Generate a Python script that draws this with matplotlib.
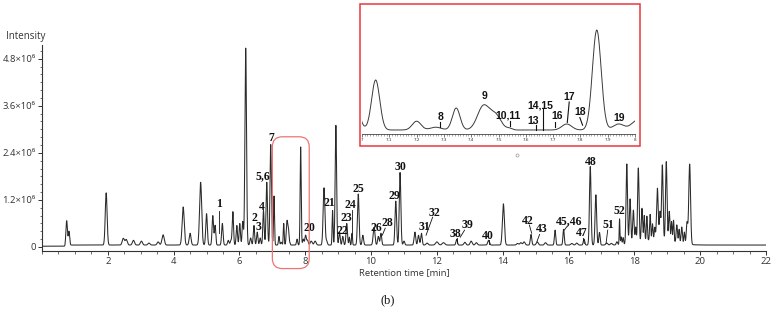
import numpy as np
import matplotlib
matplotlib.use("Agg")
import matplotlib.pyplot as plt
from matplotlib.ticker import MultipleLocator, FuncFormatter
from matplotlib.patches import FancyBboxPatch, Rectangle
from matplotlib.transforms import IdentityTransform

# peak table: retention time [min], height [x1e6], width (sigma, min)
peak_rt = [
    0.75, 0.82, 1.95, 2.47, 2.56, 2.78, 3.02, 3.25, 3.53, 3.68,
    4.29, 4.50, 4.82, 5.00, 5.19, 5.26, 5.48, 5.66, 5.74, 5.80,
    5.92, 6.01, 6.10, 6.19, 6.34, 6.44, 6.54, 6.63, 6.73, 6.83,
    6.95, 7.05, 7.20, 7.27, 7.345, 7.445, 7.49, 7.54, 7.75, 7.86,
    7.94, 8.01, 8.07, 8.18, 8.30, 8.57, 8.65, 8.83, 8.93, 9.04,
    9.14, 9.26, 9.34, 9.42, 9.61, 9.75, 10.09, 10.22, 10.30, 10.75,
    10.88, 11.00, 11.33, 11.44, 11.53, 11.70, 12.00, 12.20, 12.60, 12.85,
    13.04, 13.20, 13.57, 14.02, 14.45, 14.55, 14.65, 14.86, 15.05, 15.30,
    15.59, 15.85, 16.10, 16.25, 16.47, 16.66, 16.83, 16.94, 17.16, 17.30,
    17.47, 17.55, 17.60, 17.66, 17.77, 17.87, 17.97, 18.04, 18.12, 18.23,
    18.30, 18.38, 18.48, 18.55, 18.62, 18.70, 18.78, 18.85, 18.97, 19.06,
    19.13, 19.19, 19.29, 19.36, 19.44, 19.52, 19.60, 19.68, 18.70,
]
peak_height = [
    0.62, 0.35, 1.33, 0.17, 0.14, 0.12, 0.10, 0.05, 0.08, 0.26,
    0.97, 0.30, 1.60, 0.80, 0.75, 0.50, 0.55, 0.12, 0.12, 0.85,
    0.50, 0.55, 0.60, 5.02, 0.18, 0.50, 0.33, 0.18, 0.88, 1.60,
    2.56, 1.25, 0.22, 0.07, 0.55, 0.60, 0.35, 0.04, 0.15, 2.50,
    0.15, 0.25, 0.12, 0.10, 0.10, 1.46, 0.10, 0.88, 3.05, 0.33,
    0.22, 0.55, 0.20, 0.30, 1.30, 0.25, 0.45, 0.22, 0.30, 1.12,
    1.85, 0.10, 0.33, 0.25, 0.30, 0.05, 0.08, 0.06, 0.15, 0.07,
    0.10, 0.06, 0.12, 1.05, 0.04, 0.06, 0.08, 0.27, 0.08, 0.06,
    0.38, 0.40, 0.04, 0.05, 0.15, 2.00, 1.28, 0.32, 0.05, 0.04,
    0.08, 0.66, 0.20, 0.18, 2.05, 1.15, 0.85, 0.40, 1.90, 0.85,
    0.65, 0.62, 0.65, 0.40, 0.30, 1.30, 0.70, 1.90, 2.00, 0.75,
    0.50, 0.55, 0.45, 0.35, 0.42, 0.30, 0.55, 2.05, 0.15,
]
peak_sigma = [
    0.022, 0.020, 0.028, 0.032, 0.032, 0.032, 0.032, 0.032, 0.032, 0.034,
    0.032, 0.028, 0.032, 0.024, 0.022, 0.020, 0.022, 0.022, 0.022, 0.020,
    0.020, 0.020, 0.020, 0.024, 0.022, 0.020, 0.020, 0.020, 0.020, 0.022,
    0.022, 0.015, 0.016, 0.020, 0.014, 0.022, 0.020, 0.010, 0.018, 0.016,
    0.020, 0.022, 0.022, 0.030, 0.030, 0.027, 0.022, 0.014, 0.022, 0.020,
    0.020, 0.022, 0.014, 0.014, 0.024, 0.022, 0.027, 0.022, 0.022, 0.024,
    0.024, 0.022, 0.024, 0.022, 0.022, 0.030, 0.040, 0.040, 0.022, 0.030,
    0.030, 0.030, 0.027, 0.030, 0.030, 0.030, 0.030, 0.022, 0.030, 0.030,
    0.020, 0.020, 0.030, 0.030, 0.022, 0.024, 0.024, 0.020, 0.030, 0.030,
    0.022, 0.011, 0.016, 0.016, 0.022, 0.022, 0.022, 0.016, 0.022, 0.020,
    0.016, 0.016, 0.016, 0.016, 0.016, 0.024, 0.020, 0.022, 0.022, 0.020,
    0.016, 0.016, 0.020, 0.016, 0.020, 0.016, 0.022, 0.027, 0.450,
]
baseline_pre = 0.02   # before injection (x1e6)
baseline_run = 0.05

# compound numbers: (label, x, y) and optional leader line end
main_labels = [
    ("1", 5.38, 1.09, (5.38, 0.93), (5.38, 0.35)),
    ("2", 6.45, 0.74, None, None),
    ("3", 6.57, 0.50, None, None),
    ("4", 6.67, 1.03, None, None),
    ("5,6", 6.72, 1.81, None, None),
    ("7", 6.96, 2.78, None, None),
    ("20", 8.12, 0.48, None, None),
    ("21", 8.73, 1.11, None, None),
    ("22", 9.14, 0.42, None, None),
    ("23", 9.24, 0.73, None, None),
    ("24", 9.38, 1.07, (9.42, 0.94), (9.42, 0.36)),
    ("25", 9.61, 1.48, None, None),
    ("26", 10.15, 0.48, None, None),
    ("28", 10.48, 0.62, (10.43, 0.48), (10.34, 0.30)),
    ("29", 10.71, 1.30, None, None),
    ("30", 10.88, 2.05, None, None),
    ("31", 11.61, 0.50, None, None),
    ("32", 11.94, 0.86, (11.87, 0.76), (11.67, 0.30)),
    ("38", 12.57, 0.33, (12.60, 0.22), (12.60, 0.10)),
    ("39", 12.92, 0.55, (12.84, 0.43), (12.71, 0.25)),
    ("40", 13.55, 0.28, (13.57, 0.17), (13.57, 0.08)),
    ("42", 14.76, 0.67, (14.81, 0.56), (14.88, 0.35)),
    ("43", 15.19, 0.46, (15.12, 0.32), (15.04, 0.14)),
    ("45,46", 16.02, 0.67, (15.97, 0.54), (15.87, 0.43)),
    ("47", 16.40, 0.35, (16.45, 0.22), (16.48, 0.09)),
    ("51", 17.21, 0.56, (17.19, 0.43), (17.14, 0.09)),
    ("52", 17.55, 0.91, None, None),
    ("48", 16.66, 2.17, None, None),
]
inset_labels = [
    ("8", 7.286, 0.38, (7.286, 0.25), (7.286, 0.12)),
    ("9", 7.447, 0.90, None, None),
    ("10,11", 7.536, 0.40, (7.542, 0.28), (7.542, 0.15)),
    ("13", 7.627, 0.28, (7.639, 0.17), (7.639, 0.05)),
    ("14,15", 7.652, 0.67, (7.662, 0.57), (7.662, 0.045)),
    ("16", 7.713, 0.39, (7.707, 0.25), (7.707, 0.13)),
    ("17", 7.759, 0.88, (7.759, 0.75), (7.752, 0.24)),
    ("18", 7.800, 0.49, (7.798, 0.36), (7.808, 0.17)),
    ("19", 7.943, 0.36, None, None),
]

y_ticks = [0, 1.2, 2.4, 3.6, 4.8]
x_ticks = [2, 4, 6, 8, 10, 12, 14, 16, 18, 20, 22]
inset_ticks = [7.0, 7.1, 7.2, 7.3, 7.4, 7.5, 7.6, 7.7, 7.8, 7.9, 8.0]

t = np.linspace(0, 22, 22001)
signal = np.where(t < 0.7, baseline_pre, baseline_run)
for rt, h, s in zip(peak_rt, peak_height, peak_sigma):
    signal = signal + h * np.exp(-0.5 * ((t - rt) / s) ** 2)
signal = signal * 1e6

W, H = 776, 312
fig = plt.figure(figsize=(W / 100, H / 100), dpi=100)
ui_font = ["Open Sans", "DejaVu Sans"]
serif_bold = dict(family="Liberation Serif", weight="bold", fontsize=8.5)
line_col = "#2a2a2a"

ax = fig.add_axes([42 / W, 1 - 251 / H, 724 / W, 206 / H])
ax.plot(t, signal, color=line_col, lw=0.75)
ax.set_xlim(0, 22)
ax.set_ylim(-0.102e6, 5.15e6)
for side in ["top", "right"]:
    ax.spines[side].set_visible(False)
for side in ["left", "bottom"]:
    ax.spines[side].set_color("#333333")
    ax.spines[side].set_linewidth(0.8)
ax.set_xticks(x_ticks)
ax.xaxis.set_minor_locator(MultipleLocator(0.5))
ax.set_yticks([v * 1e6 for v in y_ticks])
ax.yaxis.set_minor_locator(MultipleLocator(0.2e6))
ax.yaxis.set_major_formatter(FuncFormatter(
    lambda v, p: "0" if abs(v) < 1 else f"{v / 1e6:.1f}×10⁶"))
ax.tick_params(which="major", length=3, width=0.7, color="#333333", pad=1.5,
               labelsize=6.8, labelcolor="#333333")
ax.tick_params(which="minor", length=1.8, width=0.5, color="#333333")
for lab in ax.get_xticklabels() + ax.get_yticklabels():
    lab.set_family(ui_font)
ax.set_xlabel("Retention time [min]", fontsize=6.8, family=ui_font,
              color="#333333", labelpad=1)
fig.text(6 / W, 1 - 37 / H, "Intensity", fontsize=7, family=ui_font,
         color="#333333", ha="left", va="center")

for text, x, y, p0, p1 in main_labels:
    ax.text(x, y * 1e6, text, ha="center", va="center", color="#111111", **serif_bold)
    if p0 is not None:
        ax.plot([p0[0], p1[0]], [p0[1] * 1e6, p1[1] * 1e6], color="#111111", lw=0.6)

ax.plot([14.44], [2.35e6], marker="o", ms=2.2, mfc="none", mec="#999999", mew=0.5)

# rounded highlight of the 7-8 min window
x0, y0 = ax.transData.transform((7.0, -0.55e6))
x1, y1 = ax.transData.transform((8.12, 2.81e6))
box = FancyBboxPatch((x0, y0), x1 - x0, y1 - y0,
                     boxstyle="round,pad=0,rounding_size=10",
                     transform=IdentityTransform(), fc="none",
                     ec="#ef7474", lw=0.9)
fig.add_artist(box)

# inset zoom 7-8 min
b = baseline_run
axi = fig.add_axes([362 / W, 1 - 134 / H, 273 / W, 129 / H])
axi.plot(t, signal, color="#3a3a3a", lw=0.7)
axi.set_xlim(7, 8)
axi.set_ylim((b - 0.1) * 1e6, (b + 3.125) * 1e6)
for side in ["top", "right", "left"]:
    axi.spines[side].set_visible(False)
axi.spines["bottom"].set_linewidth(0.6)
axi.spines["bottom"].set_color("#444444")
axi.set_yticks([])
axi.set_xticks(inset_ticks)
axi.xaxis.set_minor_locator(MultipleLocator(0.01))
axi.xaxis.set_major_formatter(FuncFormatter(lambda v, p: f"{v:g}"))
axi.tick_params(which="major", length=2, width=0.5, labelsize=3, pad=1,
                color="#444444", labelcolor="#333333")
axi.tick_params(which="minor", length=1.2, width=0.4, color="#666666")
for text, x, y, p0, p1 in inset_labels:
    axi.text(x, (b + y - 0.05) * 1e6, text, ha="center", va="center",
             family="Liberation Sans", weight="bold", fontsize=7.5, color="#111111")
    if p0 is not None:
        axi.plot([p0[0], p1[0]], [(b + p0[1] - 0.05) * 1e6, (b + p1[1] - 0.05) * 1e6],
                 color="#111111", lw=0.8)

fig.add_artist(Rectangle((360 / W, 1 - 146 / H), 280 / W, 142 / H,
                         transform=fig.transFigure, fc="none", ec="#e8383d", lw=1.1))

fig.text(388 / W, 1 - 300 / H, "(b)", fontsize=9, family="Liberation Serif",
         ha="center", va="center", color="#111111")

fig.savefig("out.png", dpi=100)
